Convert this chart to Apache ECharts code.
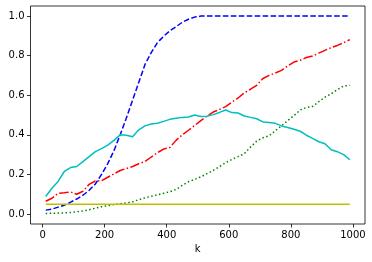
<!DOCTYPE html>
<html>
<head>
<meta charset="utf-8">
<script src="https://cdn.jsdelivr.net/npm/echarts@6/dist/echarts.min.js"></script>
<style>html,body{margin:0;padding:0;background:#fff}#c{width:372px;height:262px}</style>
</head>
<body>
<div id="c"></div>
<script>
var kStart = 10, kStep = 20;
var blue = [0.020,0.025,0.035,0.045,0.060,0.076,0.095,0.120,0.152,0.200,
  0.255,0.320,0.400,0.485,0.575,0.665,0.755,0.815,0.865,0.897,
  0.925,0.945,0.968,0.983,0.994,0.999,1.0,1.0,1.0,1.0,
  1.0,1.0,1.0,1.0,1.0,1.0,1.0,1.0,1.0,1.0,
  1.0,1.0,1.0,1.0,1.0,1.0,1.0,1.0,1.0,1.0];
var red = [0.065,0.080,0.105,0.108,0.112,0.100,0.115,0.150,0.167,0.168,
  0.186,0.203,0.220,0.230,0.240,0.254,0.265,0.288,0.310,0.328,
  0.336,0.372,0.400,0.423,0.447,0.472,0.495,0.515,0.528,0.542,
  0.565,0.586,0.612,0.630,0.650,0.684,0.700,0.712,0.725,0.748,
  0.767,0.776,0.790,0.798,0.812,0.826,0.840,0.851,0.865,0.880];
var green = [0.003,0.004,0.005,0.006,0.008,0.012,0.016,0.022,0.030,0.037,
  0.043,0.048,0.052,0.056,0.062,0.073,0.082,0.090,0.097,0.105,
  0.113,0.124,0.145,0.163,0.175,0.188,0.204,0.220,0.240,0.259,
  0.276,0.290,0.305,0.338,0.368,0.385,0.395,0.421,0.445,0.472,
  0.497,0.525,0.538,0.543,0.567,0.590,0.607,0.628,0.646,0.650];
var cyan = [0.089,0.130,0.165,0.215,0.235,0.240,0.265,0.290,0.315,0.330,
  0.348,0.372,0.400,0.398,0.390,0.425,0.445,0.455,0.458,0.468,
  0.478,0.484,0.488,0.490,0.500,0.492,0.494,0.502,0.513,0.525,
  0.512,0.510,0.495,0.488,0.481,0.465,0.462,0.458,0.445,0.437,
  0.428,0.418,0.398,0.382,0.365,0.355,0.325,0.315,0.300,0.274];
var yellow = [];
for (var i = 0; i < 50; i++) yellow.push(0.05);
var xTicks = [0,200,400,600,800,1000];
var yTicks = [0.0,0.2,0.4,0.6,0.8,1.0];

function pairs(arr){ return arr.map(function(v,i){ return [kStart + i*kStep, v]; }); }

var font = 'DejaVu Sans';
var chart = echarts.init(document.getElementById('c'), null, {renderer:'canvas'});
function mk(data, color, type){
  return {type:'line', data:pairs(data), showSymbol:false, symbol:'none', animation:false,
    lineStyle:{color:color, width:1.5, type:type, cap:'butt'}, z:2};
}
chart.setOption({
  animation:false,
  grid:{left:30.5, right:7, top:6, bottom:38, show:true, borderColor:'#000', borderWidth:0.8, containLabel:false},
  xAxis:{type:'value', min:-39, max:1039,
    name:'k', nameLocation:'middle', nameGap:17, nameTextStyle:{fontFamily:font, fontSize:10, color:'#000'},
    axisLine:{show:false, onZero:false}, splitLine:{show:false},
    axisTick:{show:true, inside:false, length:3.5, lineStyle:{color:'#000', width:0.8}, customValues:xTicks},
    axisLabel:{customValues:xTicks, margin:6, fontFamily:font, fontSize:10, color:'#000', formatter:function(v){return String(Math.round(v));}}
  },
  yAxis:{type:'value', min:-0.05, max:1.05,
    axisLine:{show:false, onZero:false}, splitLine:{show:false},
    axisTick:{show:true, inside:false, length:3.5, lineStyle:{color:'#000', width:0.8}, customValues:yTicks},
    axisLabel:{customValues:yTicks, margin:6, fontFamily:font, fontSize:10, color:'#000', formatter:function(v){return v.toFixed(1);}}
  },
  series:[
    mk(blue, '#0000ff', [5.55,2.4]),
    mk(red, '#ff0000', [9.6,2.4,1.5,2.4]),
    mk(green, '#008000', [1.5,2.475]),
    mk(cyan, '#00bfbf', 'solid'),
    mk(yellow, '#bfbf00', 'solid')
  ]
});
</script>
</body>
</html>
